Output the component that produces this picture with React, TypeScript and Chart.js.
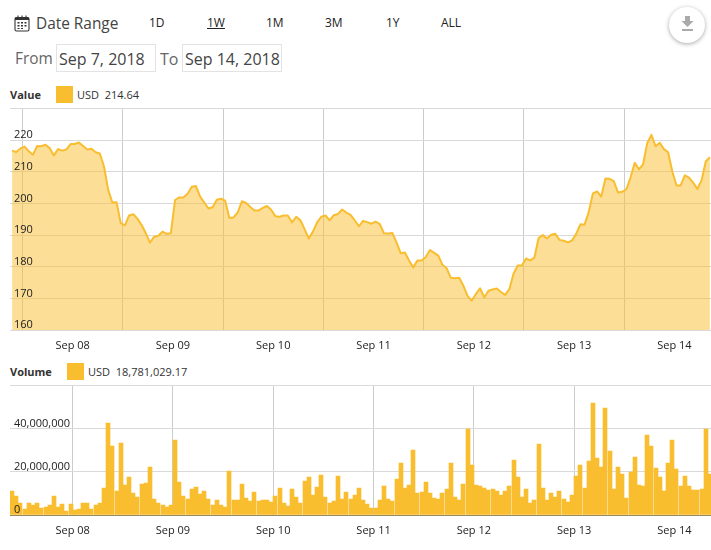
import React, { useEffect, useRef } from "react";
import { Chart, registerables } from "chart.js";

Chart.register(...registerables);

const priceValues = [
  216.7, 216.3, 217.4, 218.0, 216.5, 215.4, 218.2, 218.1, 218.6, 217.5, 215.2, 217.2, 216.7, 217.1, 218.8, 218.8, 219.3, 218.2, 217.1, 217.3, 216.2, 215.8, 211.7, 204.3,
  200.3, 200.4, 193.8, 193.1, 196.2, 196.6, 195.2, 193.2, 190.6, 187.6, 189.5, 189.8, 191.1, 190.4, 190.6, 201.1, 201.9, 201.9, 203.1, 205.3, 205.5, 202.2, 200.3, 198.4,
  198.8, 201.2, 201.5, 200.9, 195.4, 195.6, 197.2, 200.7, 200.2, 198.9, 197.8, 197.8, 198.6, 199.2, 198.0, 196.0, 195.8, 196.2, 196.2, 194.0, 195.8, 194.7, 191.9, 188.9,
  191.1, 194.0, 195.8, 196.2, 194.7, 196.3, 196.7, 198.1, 197.1, 196.4, 194.7, 192.8, 194.5, 194.1, 193.6, 194.3, 193.5, 190.6, 190.5, 190.7, 187.7, 184.3, 184.5, 182.0,
  179.8, 182.0, 182.0, 183.1, 185.3, 184.4, 183.5, 180.6, 179.5, 176.5, 176.4, 176.5, 174.0, 170.8, 169.3, 171.4, 173.2, 170.3, 172.4, 172.8, 173.1, 172.0, 171.1, 172.9,
  177.8, 180.4, 180.4, 182.6, 182.0, 182.9, 189.1, 190.0, 188.9, 190.1, 190.4, 188.5, 188.2, 187.7, 188.3, 190.4, 193.4, 193.3, 197.3, 203.2, 203.8, 202.2, 207.9, 207.8,
  207.1, 203.5, 203.7, 204.5, 208.2, 212.9, 210.8, 212.4, 219.1, 221.7, 218.1, 219.2, 217.2, 216.2, 210.1, 205.7, 205.7, 208.9, 208.2, 206.6, 204.6, 207.3, 213.3, 214.6,
];

const volumeMillions = [
  11.3, 9.0, 5.7, 2.9, 5.7, 4.8, 5.7, 3.4, 3.9, 4.8, 9.0, 3.9, 5.2, 2.0, 5.2, 2.5, 2.9, 5.7, 5.7, 2.9, 4.8, 5.7, 12.7, 42.7,
  32.1, 11.3, 33.5, 14.0, 17.7, 10.3, 8.5, 14.5, 15.0, 22.4, 7.6, 5.7, 4.8, 3.9, 4.8, 34.9, 15.4, 9.0, 7.6, 12.2, 13.1, 9.9, 11.3, 7.6,
  4.8, 7.1, 4.8, 3.9, 20.5, 7.1, 7.1, 14.5, 8.0, 6.6, 10.8, 6.6, 7.1, 7.1, 6.2, 9.0, 12.7, 5.7, 4.3, 12.2, 8.5, 5.7, 15.9, 17.7,
  9.4, 13.1, 18.7, 8.5, 5.7, 6.6, 18.2, 7.6, 10.8, 7.6, 9.4, 12.7, 7.1, 5.2, 3.4, 3.4, 7.1, 13.6, 7.6, 6.6, 16.8, 24.2, 12.7, 14.0,
  30.2, 10.3, 10.8, 15.4, 10.3, 8.0, 7.6, 10.3, 12.2, 24.2, 8.5, 7.1, 14.5, 40.0, 23.3, 14.0, 13.6, 12.7, 11.7, 12.2, 11.3, 9.4,
  11.3, 13.6, 25.6, 17.7, 8.5, 12.2, 5.7, 7.1, 33.0, 12.7, 7.1, 10.3, 8.5, 11.3, 7.6, 6.2, 9.4, 18.2, 23.3, 12.7, 25.2, 52.0,
  26.5, 22.4, 49.7, 29.8, 12.2, 22.4, 19.1, 8.0, 20.1, 27.0, 14.0, 13.6, 37.2, 32.1, 21.9, 17.7, 11.3, 24.2, 34.9, 21.5, 13.6, 18.2,
  13.6, 11.7, 11.7, 12.2, 40.0, 18.8,
];

const dayLabels = ["Sep 08", "Sep 09", "Sep 10", "Sep 11", "Sep 12", "Sep 13", "Sep 14"];
const dayGridHours = [3, 27, 51, 75, 99, 123, 147];
const dayLabelHours = [15, 39, 63, 87, 111, 135, 159];
const rangeButtons = ["1D", "1W", "1M", "3M", "1Y", "ALL"];

const HOUR_SPAN = 167.76;
const GOLD = "#F9BE2F";
const GRID = "#d9d9d9";
const FONT = '"Open Sans", sans-serif';

function xAxis(borderColor: string, borderZ: number, height: number) {
  return {
    type: "linear" as const,
    min: 0,
    max: HOUR_SPAN,
    offset: false,
    afterBuildTicks: (axis: any) => {
      axis.ticks = [...dayGridHours, ...dayLabelHours].map((value) => ({ value }));
    },
    afterFit: (axis: any) => {
      axis.height = height;
    },
    grid: {
      drawTicks: false,
      tickLength: 0,
      color: (ctx: any) => (ctx.tick && dayGridHours.includes(ctx.tick.value) ? "rgba(0,0,0,0.2)" : "rgba(0,0,0,0)"),
    },
    border: { color: borderColor, z: borderZ },
    ticks: {
      autoSkip: false,
      maxRotation: 0,
      padding: 9,
      color: "#222",
      font: { family: FONT, size: 11 },
      callback: (value: any) => {
        const i = dayLabelHours.indexOf(value);
        return i >= 0 ? dayLabels[i] : "";
      },
    },
  };
}

function yAxis(min: number, max: number, step: number, hideAbove: number, offset: number) {
  return {
    min,
    max,
    afterFit: (axis: any) => {
      axis.width = 0;
    },
    grid: { drawTicks: false, tickLength: 0, color: GRID },
    border: { display: false },
    ticks: {
      stepSize: step,
      mirror: true,
      padding: 4,
      z: 2,
      labelOffset: offset,
      color: "#222",
      font: { family: FONT, size: 11 },
      callback: (value: any) => (value >= hideAbove ? "" : Number(value).toLocaleString("en-US")),
    },
  };
}

const snapBars = {
  id: "snapBars",
  afterDatasetsUpdate(chart: any) {
    chart.getDatasetMeta(0).data.forEach((el: any) => {
      const left = Math.floor(el.x - el.width / 2 + 0.59);
      el.x = left + 2;
      el.width = 4;
      el.y = Math.round(el.y);
    });
  },
};

function Swatch({ left, top }: { left: number; top: number }) {
  return <div style={{ position: "absolute", left, top, width: 17, height: 17, background: GOLD }} />;
}

function Txt({ left, top, size = 11, color = "#333", bold, underline, children }: any) {
  return (
    <div
      style={{
        position: "absolute",
        left,
        top,
        fontSize: size,
        lineHeight: "16px",
        color,
        fontWeight: bold ? 700 : 400,
        textDecoration: underline ? "underline" : "none",
        whiteSpace: "nowrap",
      }}
    >
      {children}
    </div>
  );
}

const buttonX = [149, 207, 266, 325, 386, 441];

export default function App() {
  const priceRef = useRef<HTMLCanvasElement>(null);
  const volumeRef = useRef<HTMLCanvasElement>(null);

  useEffect(() => {
    const price = new Chart(priceRef.current!, {
      type: "line",
      data: {
        datasets: [
          {
            data: priceValues.map((y, i) => ({ x: i + 0.5, y })),
            borderColor: GOLD,
            backgroundColor: "rgba(249,190,47,0.5)",
            borderWidth: 2,
            pointRadius: 0,
            fill: "origin",
            tension: 0,
            borderJoinStyle: "round",
          },
        ],
      },
      options: {
        responsive: false,
        animation: false,
        layout: { padding: { left: 10, top: 0, right: 0, bottom: 0 } },
        plugins: { legend: { display: false }, tooltip: { enabled: false } },
        scales: { x: xAxis("#d9d9d9", 0, 30), y: yAxis(160, 230, 10, 230, -5) },
      } as any,
    });
    const volume = new Chart(volumeRef.current!, {
      type: "bar",
      data: {
        datasets: [
          {
            data: volumeMillions.map((m, i) => ({ x: i + 0.5, y: m * 1000000 })),
            backgroundColor: GOLD,
            borderWidth: 0,
            barPercentage: 1,
            categoryPercentage: 1,
          },
        ],
      },
      options: {
        responsive: false,
        animation: false,
        layout: { padding: { left: 10, top: 0, right: 0, bottom: 0 } },
        plugins: { legend: { display: false }, tooltip: { enabled: false } },
        scales: { x: xAxis("rgba(110,80,10,0.6)", 2, 25), y: yAxis(0, 60000000, 20000000, 60000000, -5) },
      } as any,
      plugins: [snapBars],
    });
    return () => {
      price.destroy();
      volume.destroy();
    };
  }, []);

  return (
    <div style={{ position: "absolute", left: 0, top: 0, width: 711, height: 550, overflow: "hidden", background: "#fff", fontFamily: FONT }}>
      <svg style={{ position: "absolute", left: 14, top: 15 }} width="16" height="17" viewBox="0 0 16 17">
        <rect x="1" y="2.5" width="14" height="13.5" rx="1.5" fill="none" stroke="#333" strokeWidth="1.1" />
        <rect x="1" y="2.5" width="14" height="2.5" fill="#333" />
        <path d="M4 0.5v3M8 0.5v3M12 0.5v3" stroke="#333" strokeWidth="1.1" />
        <path d="M3.5 7h2v1.5h-2zM7 7h2v1.5H7zM10.5 7h2v1.5h-2zM3.5 10h2v1.5h-2zM7 10h2v1.5H7zM10.5 10h2v1.5h-2zM3.5 13h2v1h-2zM7 13h2v1H7z" fill="#333" />
      </svg>
      <Txt left={36} top={16} size={15.4} color="#444">Date Range</Txt>
      {rangeButtons.map((b, i) => (
        <Txt key={b} left={buttonX[i]} top={15} size={12} color="#222" underline={b === "1W"}>{b}</Txt>
      ))}
      <div style={{ position: "absolute", left: 669, top: 7, width: 36, height: 36, borderRadius: 18, background: "#fff", boxShadow: "0 1px 4px rgba(0,0,0,0.35)" }} />
      <svg style={{ position: "absolute", left: 681, top: 16 }} width="13" height="16" viewBox="0 0 13 16">
        <path d="M4 0h5v5h3.5L6.5 11 0.5 5H4z" fill="#aaa" />
        <rect x="1" y="13" width="11" height="2" fill="#aaa" />
      </svg>
      <Txt left={15} top={51} size={15.4} color="#666">From</Txt>
      <div style={{ position: "absolute", left: 56, top: 44, width: 98, height: 26, border: "1px solid #e3e3e3" }} />
      <Txt left={59} top={51} size={16} color="#444">Sep 7, 2018</Txt>
      <Txt left={160} top={51} size={16} color="#666">To</Txt>
      <div style={{ position: "absolute", left: 182, top: 44, width: 98, height: 26, border: "1px solid #e3e3e3" }} />
      <Txt left={185} top={51} size={16} color="#444">Sep 14, 2018</Txt>

      <Txt left={10} top={87} bold>Value</Txt>
      <Swatch left={56} top={86} />
      <Txt left={77} top={87}>USD&nbsp; 214.64</Txt>
      <canvas ref={priceRef} width={711} height={262} style={{ position: "absolute", left: 0, top: 98 }} />

      <Txt left={10} top={364} bold>Volume</Txt>
      <Swatch left={67} top={363} />
      <Txt left={88} top={364}>USD&nbsp; 18,781,029.17</Txt>
      <canvas ref={volumeRef} width={711} height={165} style={{ position: "absolute", left: 0, top: 375 }} />
    </div>
  );
}
